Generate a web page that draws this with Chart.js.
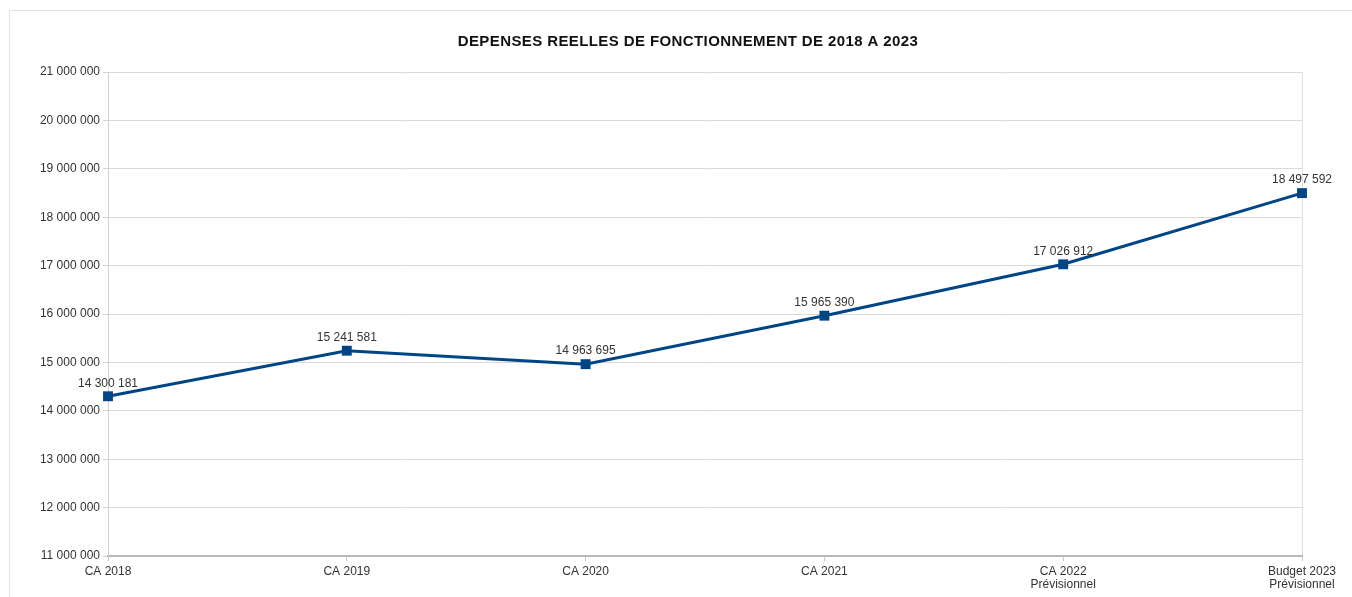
<!DOCTYPE html>
<html>
<head>
<meta charset="utf-8">
<script src="https://cdn.jsdelivr.net/npm/chart.js@4/dist/chart.umd.min.js"></script>
<style>
  html, body { margin: 0; padding: 0; background: #ffffff; }
  #wrap { width: 1352px; height: 597px; position: relative; }
</style>
</head>
<body>
<div id="wrap"><canvas id="c" width="1352" height="597"></canvas></div>
<script>
// Catégories (exercices) et dépenses réelles de fonctionnement, en euros
const categories = [
  ['CA 2018'],
  ['CA 2019'],
  ['CA 2020'],
  ['CA 2021'],
  ['CA 2022', 'Prévisionnel'],
  ['Budget 2023', 'Prévisionnel']
];
const depenses = [14300181, 15241581, 14963695, 15965390, 17026912, 18497592];

// Axe des valeurs
const yMin = 11000000;
const yMax = 21000000;
const yStep = 1000000;

const chartTitle = 'DEPENSES REELLES DE FONCTIONNEMENT DE 2018 A 2023';

const fmt = v => String(Math.round(v)).replace(/\B(?=(\d{3})+(?!\d))/g, ' ');

const FONT = '"Liberation Sans", Arial, sans-serif';
const TEXT = '#333333';

// Cadre gris clair autour du graphique et titre
const framePlugin = {
  id: 'frame',
  beforeDraw(chart) {
    const ctx = chart.ctx;
    ctx.save();
    ctx.strokeStyle = '#e2e2e2';
    ctx.lineWidth = 1;
    ctx.strokeRect(9.5, 10.5, 1400, 700);
    ctx.font = 'bold 15px ' + FONT;
    if ('letterSpacing' in ctx) ctx.letterSpacing = '0.4px';
    ctx.fillStyle = '#111111';
    ctx.textAlign = 'center';
    ctx.textBaseline = 'middle';
    ctx.fillText(chartTitle, 688, 42);
    ctx.restore();
  }
};

// Étiquettes de valeur au-dessus de chaque point
const valueLabels = {
  id: 'valueLabels',
  afterDatasetsDraw(chart) {
    const ctx = chart.ctx;
    const meta = chart.getDatasetMeta(0);
    ctx.save();
    ctx.font = '12px ' + FONT;
    ctx.fillStyle = TEXT;
    ctx.textAlign = 'center';
    ctx.textBaseline = 'bottom';
    meta.data.forEach((pt, i) => {
      ctx.fillText(fmt(chart.data.datasets[0].data[i]), pt.x, pt.y - 7);
    });
    ctx.restore();
  }
};

const lastIndex = categories.length - 1;

new Chart(document.getElementById('c'), {
  type: 'line',
  data: {
    labels: categories,
    datasets: [{
      data: depenses,
      borderColor: '#004586',
      backgroundColor: '#004586',
      borderWidth: 3,
      pointStyle: 'rect',
      pointRadius: 7,
      pointHoverRadius: 7,
      pointBackgroundColor: '#004586',
      pointBorderWidth: 0,
      tension: 0,
      fill: false
    }]
  },
  options: {
    responsive: false,
    animation: false,
    events: [],
    layout: { padding: { left: 0, right: 50, top: 72, bottom: 0 } },
    plugins: {
      legend: { display: false },
      tooltip: { enabled: false },
      title: { display: false }
    },
    scales: {
      x: {
        offset: false,
        grid: {
          display: true,
          drawOnChartArea: true,
          color: ctx => (ctx.index === lastIndex ? '#e0e0e0' : 'rgba(0,0,0,0)'),
          tickColor: '#c8c8c8',
          tickLength: 5,
          lineWidth: 1
        },
        border: { display: true, color: '#b8b8b8', width: 2 },
        ticks: {
          color: TEXT,
          font: { family: FONT, size: 12, lineHeight: 1.1 },
          padding: 4,
          maxRotation: 0,
          autoSkip: false
        },
        afterFit(scale) { scale.height = 41; }
      },
      y: {
        min: yMin,
        max: yMax,
        grid: {
          color: '#d9d9d9',
          tickColor: '#d0d0d0',
          tickLength: 5,
          lineWidth: 1
        },
        border: { display: true, color: '#d0d0d0', width: 1 },
        ticks: {
          stepSize: yStep,
          color: TEXT,
          font: { family: FONT, size: 12 },
          padding: 3,
          callback: v => fmt(v)
        },
        afterFit(scale) { scale.width = 108; }
      }
    }
  },
  plugins: [framePlugin, valueLabels]
});
</script>
</body>
</html>
